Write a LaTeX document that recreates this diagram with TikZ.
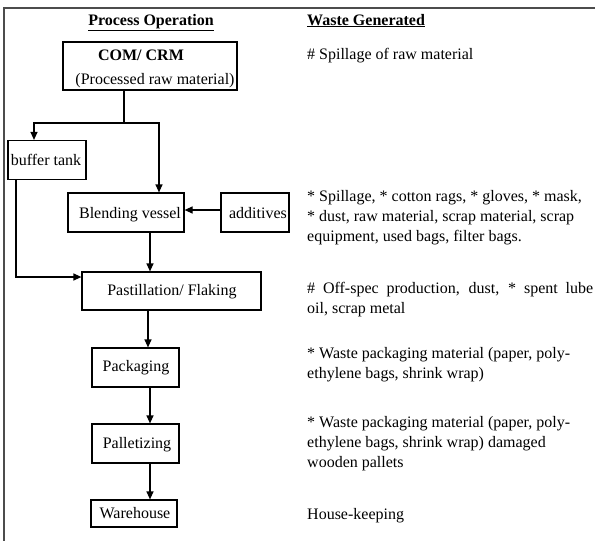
\documentclass[tikz,border=0pt]{standalone}
\usepackage{fontspec}
\setmainfont{Liberation Serif}
\usetikzlibrary{arrows.meta}
\begin{document}
\begin{tikzpicture}[x=1pt,y=-1pt,
  font=\fontsize{16}{20}\selectfont,
  box/.style={draw,line width=1.2pt,inner sep=0pt},
  txt/.style={inner sep=0pt,anchor=base},
  wtxt/.style={inner sep=0pt,anchor=base west},
  arr/.style={line width=1.2pt,-{Triangle[length=8pt,width=7pt]}},
  ln/.style={line width=1.2pt},
  frame/.style={line width=1.2pt,draw=black!70}]
\useasboundingbox (0,0) rectangle (595,541);
% frame
\draw[frame] (4,541) -- (4,8) -- (595,8);
% headers
\node[txt] (h1) at (151,25) {\textbf{\underline{Process Operation}}};
\node[wtxt] (h2) at (307,25) {\textbf{\underline{Waste Generated}}};
% boxes
\node[box,minimum width=174pt,minimum height=48pt] (com) at (150,66) {};
\node[txt] (comt1) at (141,60) {\textbf{COM/ CRM}};
\node[txt] (comt2) at (155,84) {(Processed raw material)};
\node[box,minimum width=78pt,minimum height=39pt] (buf) at (47,160) {};
\node[txt] (buft) at (46,165) {buffer tank};
\node[box,minimum width=116pt,minimum height=39pt] (blend) at (126,212.5) {};
\node[txt] (blendt) at (130,218) {Blending vessel};
\node[box,minimum width=68pt,minimum height=39pt] (add) at (255,212.5) {};
\node[txt] (addt) at (258,218) {additives};
\node[box,minimum width=179pt,minimum height=38pt] (past) at (171.5,291) {};
\node[txt] (pastt) at (172,295) {Pastillation/ Flaking};
\node[box,minimum width=87pt,minimum height=39pt] (pack) at (135.5,367.5) {};
\node[txt] (packt) at (136,371) {Packaging};
\node[box,minimum width=87pt,minimum height=39pt] (pall) at (135.5,443.5) {};
\node[txt] (pallt) at (137,448) {Palletizing};
\node[box,minimum width=86pt,minimum height=27pt] (ware) at (134,513.5) {};
\node[txt] (waret) at (135,518) {Warehouse};
% connectors
\coordinate (jm) at (124,123);
\coordinate (jl) at (34,123);
\coordinate (jr) at (159,123);
\draw[ln] (jm |- com.south) -- (jm);
\draw[arr] (jr) -- (jl) -- (jl |- buf.north);
\draw[arr] (jm) -- (jr) -- (jr |- blend.north);
\draw[arr] (add.west |- 0,210) -- (blend.east |- 0,210);
\coordinate (jb) at (16,277);
\draw[arr] (jb |- buf.south) -- (jb) -- (jb -| past.west);
\coordinate (xa) at (150,0);
\coordinate (xb) at (148,0);
\coordinate (xc) at (150,0);
\draw[arr] (xa |- blend.south) -- (xa |- past.north);
\draw[arr] (xb |- past.south) -- (xb |- pack.north);
\draw[arr] (xc |- pack.south) -- (xc |- pall.north);
\draw[arr] (xc |- pall.south) -- (xc |- ware.north);
% waste texts
\node[wtxt] (w1) at (307,59) {\# Spillage of raw material};
\node[wtxt] (w2) at (307,201) {\parbox[t]{290pt}{\raggedright
* Spillage, * cotton rags, * gloves, * mask,\newline
* dust, raw material, scrap material, scrap\newline
equipment, used bags, filter bags.}};
\node[wtxt] (w3) at (307,293) {\parbox[t]{286pt}{
\# Off-spec production, dust, * spent lube\linebreak
oil, scrap metal}};
\node[wtxt] (w4) at (307,358) {\parbox[t]{290pt}{\raggedright
* Waste packaging material (paper, poly-\newline
ethylene bags, shrink wrap)}};
\node[wtxt] (w5) at (307,427) {\parbox[t]{290pt}{\raggedright
* Waste packaging material (paper, poly-\newline
ethylene bags, shrink wrap) damaged\newline
wooden pallets}};
\node[wtxt] (w6) at (307,519) {House-keeping};
\end{tikzpicture}
\end{document}
